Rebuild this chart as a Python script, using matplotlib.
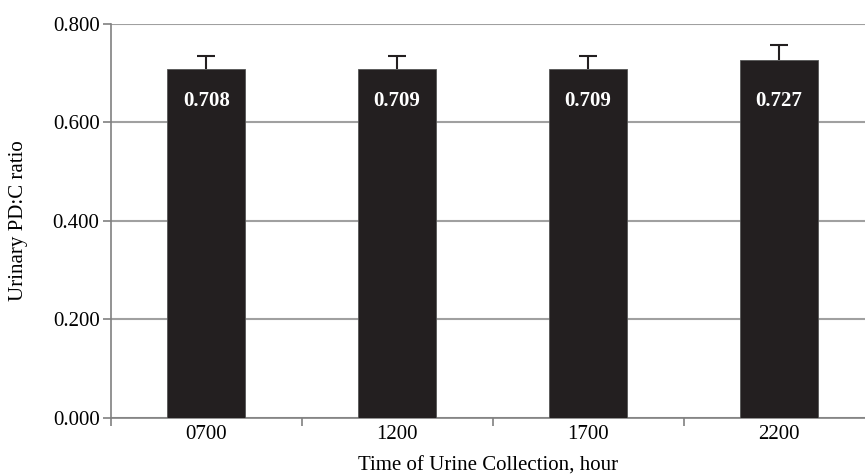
import numpy as np
import matplotlib.pyplot as plt

# valeurs
horas = ['0700', '1200', '1700', '2200']
razao = [0.708, 0.709, 0.709, 0.727]
erro = [0.026, 0.026, 0.026, 0.029]
yticks = [0.0, 0.2, 0.4, 0.6, 0.8]

plt.rcParams['font.family'] = ['Liberation Serif', 'DejaVu Serif']

fig = plt.figure(figsize=(8.65, 4.76), dpi=100)
ax = fig.add_axes([0.128, 0.122, 0.872, 0.828])

x = np.arange(len(horas))
topo = np.array(razao) + np.array(erro)
ax.set_axisbelow(True)
ax.yaxis.grid(True, color='#a0a0a0', linewidth=1.5)
ax.bar(x, razao, width=0.41, color='#231f20', edgecolor='#555555', linewidth=0.6, zorder=3)
# barres d'erreur vers le haut seulement, capuchon en haut
ax.errorbar(x, razao, yerr=[np.zeros(len(erro)), erro], fmt='none', ecolor='#231f20',
            elinewidth=1.5, capsize=0, zorder=3)
ax.plot(x, topo, ls='none', marker='_', markersize=13, markeredgewidth=1.5,
        color='#231f20', zorder=3)

for xi, v in zip(x, razao):
    ax.text(xi, 0.643, f'{v:.3f}', ha='center', va='center', color='white',
            fontsize=15, fontweight='bold', zorder=4)

ax.set_xlim(-0.5, 3.45)
ax.set_ylim(0, 0.8)
ax.set_yticks(yticks)
ax.set_yticklabels([f'{t:.3f}' for t in yticks], fontsize=15)
ax.set_xticks(x)
ax.set_xticklabels(horas, fontsize=15)
ax.tick_params(axis='x', which='major', length=0, pad=5)
ax.set_xticks(np.arange(-0.5, 3.5, 1.0), minor=True)
ax.tick_params(axis='x', which='minor', length=6, width=1.2, color='#808080', direction='out')
ax.tick_params(axis='y', length=6, width=1.2, color='#808080', pad=2)

for s in ['top', 'right']:
    ax.spines[s].set_visible(False)
for s in ['left', 'bottom']:
    ax.spines[s].set_color('#808080')
    ax.spines[s].set_linewidth(1.2)

ax.set_ylabel('Urinary PD:C ratio', fontsize=15, labelpad=18)
ax.set_xlabel('Time of Urine Collection, hour', fontsize=15, labelpad=9)

plt.savefig('out.png', dpi=100)
